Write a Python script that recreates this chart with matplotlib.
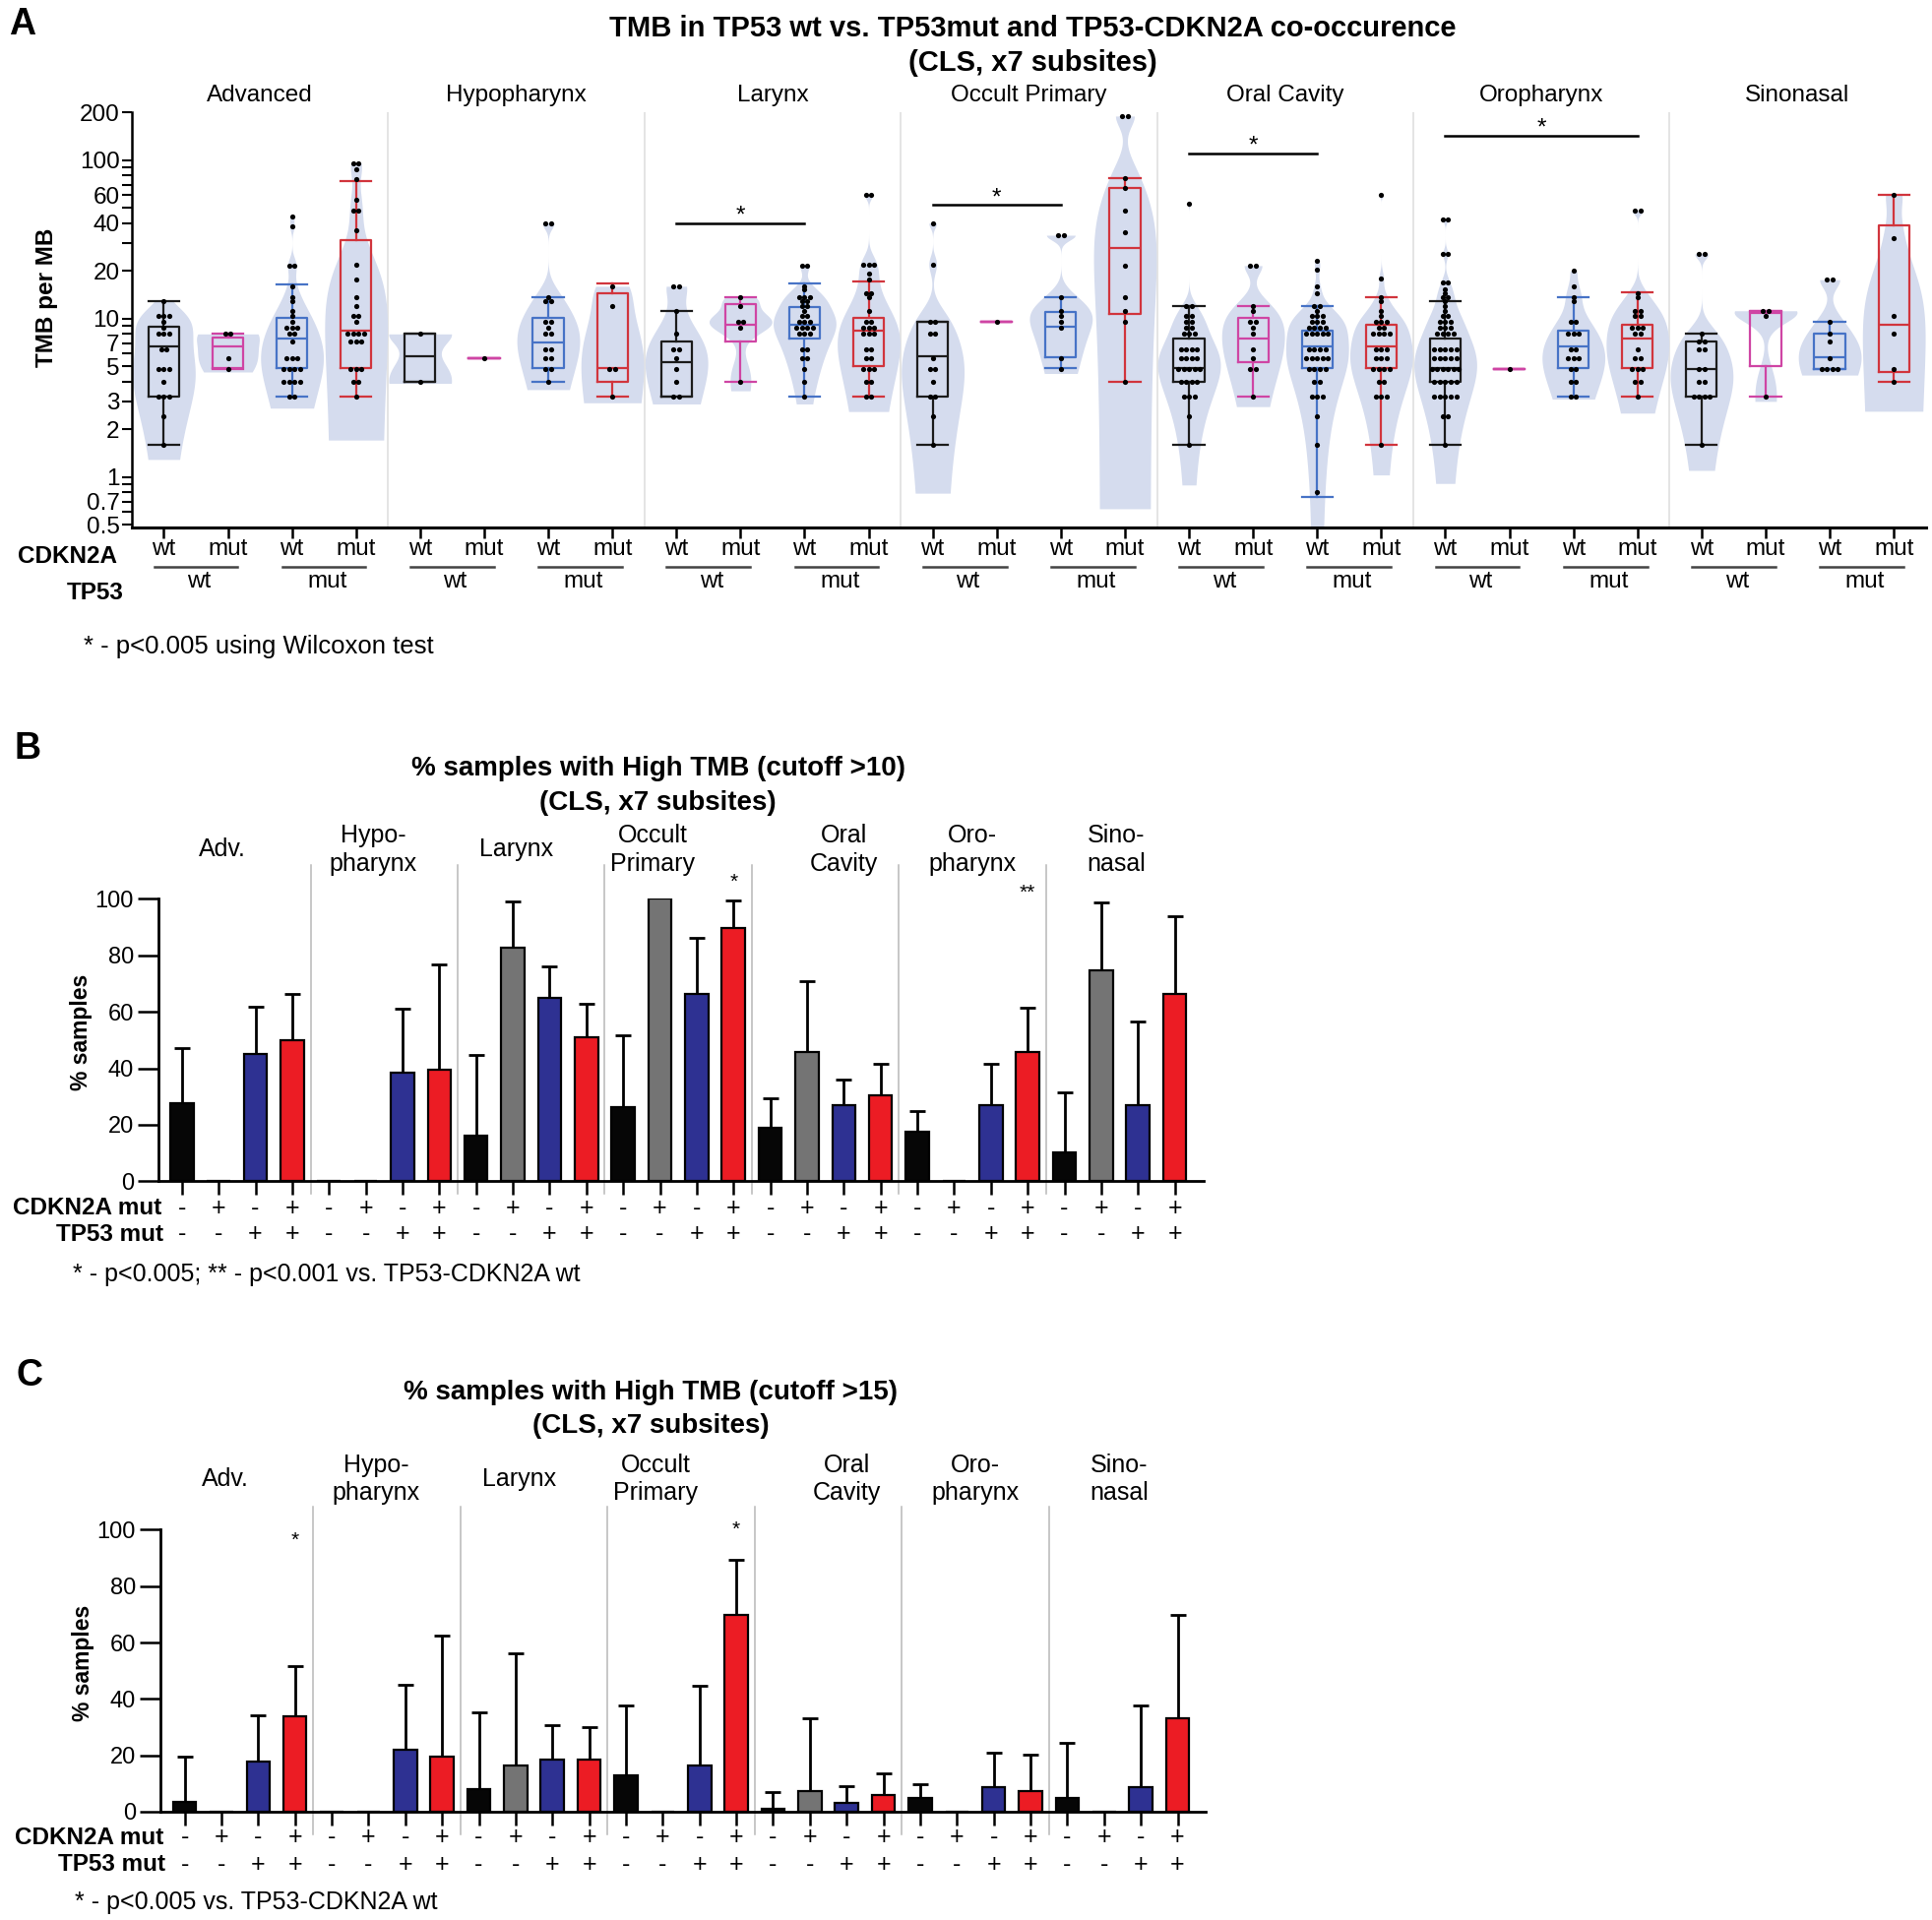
import numpy as np
import matplotlib
matplotlib.use("Agg")
import matplotlib.pyplot as plt
from matplotlib.ticker import NullLocator

plt.rcParams['font.family'] = ['Liberation Sans', 'DejaVu Sans']

# ================= Panel A data =================
subsites = ['Advanced', 'Hypopharynx', 'Larynx', 'Occult Primary',
            'Oral Cavity', 'Oropharynx', 'Sinonasal']
cdkn2a_status = ['wt', 'mut', 'wt', 'mut']
tp53_status = ['wt', 'mut']

# TMB values as (value, n samples); group order per subsite:
# CDKN2A wt/TP53 wt, CDKN2A mut/TP53 wt, CDKN2A wt/TP53 mut, CDKN2A mut/TP53 mut
tmb_advanced = [
    [(12.8, 1), (10.4, 3), (9.6, 1), (8.8, 1), (8.0, 3), (6.4, 2), (4.8, 3), (4.0, 1), (3.2, 3), (2.4, 1), (1.6, 1)],
    [(8.0, 2), (5.6, 1), (4.8, 1)],
    [(44, 1), (38, 1), (21.6, 2), (16, 1), (13.6, 1), (12.8, 1), (11.2, 1), (10.4, 1), (9.6, 1), (8.8, 3),
     (8.0, 2), (7.2, 1), (5.6, 3), (4.8, 4), (4.0, 4), (3.2, 2)],
    [(96, 2), (88, 1), (76, 1), (56, 1), (48, 2), (36, 1), (22, 1), (17.6, 1), (13.6, 1), (12, 1), (10.4, 2),
     (9.6, 1), (8.0, 4), (7.2, 3), (4.8, 3), (4.0, 2), (3.2, 1)],
]
tmb_hypopharynx = [
    [(8.0, 1), (4.0, 1)],
    [(5.6, 1)],
    [(40, 2), (13.6, 1), (12.8, 2), (9.6, 2), (8.8, 1), (8.0, 2), (6.4, 2), (5.6, 2), (4.8, 2), (4.0, 1)],
    [(16, 1), (12, 1), (4.8, 2), (3.2, 1)],
]
tmb_larynx = [
    [(16, 2), (11.2, 1), (8.0, 1), (6.4, 2), (5.6, 1), (4.8, 1), (4.0, 1), (3.2, 2)],
    [(13.6, 1), (12, 1), (9.6, 2), (8.8, 1), (4.0, 1)],
    [(21.6, 2), (16, 1), (15.2, 1), (13.6, 3), (12.8, 2), (12, 2), (11.2, 1), (10.4, 2), (9.6, 3), (8.8, 4),
     (8.0, 3), (6.4, 2), (5.6, 2), (4.8, 1), (4.0, 1), (3.2, 1)],
    [(60, 2), (22, 3), (19.2, 1), (17.6, 1), (14.4, 2), (13.6, 1), (11.2, 1), (9.6, 2), (8.8, 3), (8.0, 3),
     (6.4, 2), (5.6, 2), (4.8, 3), (4.0, 2), (3.2, 2)],
]
tmb_occult = [
    [(40, 1), (22, 1), (9.6, 2), (8.0, 2), (5.6, 1), (4.8, 2), (4.0, 1), (3.2, 2), (2.4, 1), (1.6, 1)],
    [(9.6, 1)],
    [(33.6, 2), (13.6, 1), (11.2, 1), (10.4, 1), (9.6, 1), (8.8, 1), (5.6, 1), (4.8, 1)],
    [(190, 2), (77, 1), (67, 1), (48, 1), (35, 1), (21.6, 1), (13.6, 1), (11.2, 1), (9.6, 1), (4.0, 1)],
]
tmb_oral = [
    [(53, 1), (12, 2), (10.4, 2), (9.6, 2), (8.8, 2), (8.0, 3), (6.4, 4), (5.6, 4), (4.8, 5), (4.0, 4),
     (3.2, 3), (2.4, 1), (1.6, 1)],
    [(21.6, 2), (12, 1), (11.2, 1), (9.6, 2), (8.8, 1), (8.0, 1), (6.4, 1), (5.6, 1), (4.8, 2), (3.2, 1)],
    [(23, 1), (20.5, 1), (16, 1), (14.4, 1), (12, 2), (11.2, 1), (10.4, 3), (9.6, 3), (8.8, 4), (8.0, 5),
     (6.4, 4), (5.6, 5), (4.8, 4), (4.0, 2), (3.2, 3), (2.4, 1), (1.6, 1), (0.8, 1)],
    [(60, 1), (18, 1), (13.6, 1), (12.8, 1), (11.2, 1), (10.4, 1), (9.6, 3), (8.8, 2), (8.0, 4), (6.4, 3),
     (5.6, 3), (4.8, 4), (4.0, 2), (3.2, 3), (1.6, 1)],
]
tmb_oropharynx = [
    [(42, 2), (25.6, 2), (16.8, 2), (15.2, 1), (14.4, 1), (13.6, 2), (12.8, 1), (12, 1), (11.2, 1), (10.4, 2),
     (9.6, 3), (8.8, 3), (8.0, 4), (6.4, 5), (5.6, 5), (4.8, 6), (4.0, 5), (3.2, 5), (2.4, 2), (1.6, 1)],
    [(4.8, 1)],
    [(20, 1), (16, 1), (13.6, 1), (12.8, 1), (9.6, 2), (8.0, 3), (6.4, 2), (5.6, 3), (4.8, 2), (4.0, 2), (3.2, 2)],
    [(48, 2), (14.4, 1), (13.6, 1), (11.2, 2), (10.4, 2), (8.8, 3), (8.0, 2), (6.4, 1), (5.6, 2), (4.8, 3),
     (4.0, 2), (3.2, 1)],
]
tmb_sinonasal = [
    [(25.6, 2), (8.0, 1), (7.2, 2), (6.4, 2), (4.8, 2), (4.0, 2), (3.2, 4), (1.6, 1)],
    [(11.2, 2), (10.4, 1), (3.2, 1)],
    [(17.6, 2), (9.6, 1), (8.0, 1), (7.2, 1), (5.6, 1), (4.8, 4)],
    [(60, 1), (32, 1), (10.4, 1), (8.0, 1), (4.8, 1), (4.0, 1)],
]

# box statistics: (whisker low, Q1, median, Q3, whisker high)
box_advanced = [(1.6, 3.2, 6.7, 8.9, 12.8), (4.8, 4.9, 6.7, 7.6, 8.0),
                (3.2, 4.9, 7.5, 10.1, 16.4), (3.2, 4.9, 8.4, 31.4, 74)]
box_hypopharynx = [(4.0, 4.0, 5.8, 8.0, 8.0), (5.6, 5.6, 5.6, 5.6, 5.6),
                   (4.0, 4.9, 7.1, 10.1, 13.7), (3.2, 4.0, 4.9, 14.4, 16.6)]
box_larynx = [(3.2, 3.2, 5.3, 7.2, 11.2), (4.0, 7.2, 9.2, 12.4, 13.7),
              (3.2, 7.5, 9.2, 11.8, 16.6), (3.2, 5.0, 8.4, 10.1, 17.2)]
box_occult = [(1.6, 3.2, 5.8, 9.6, 9.6), (9.6, 9.6, 9.6, 9.6, 9.6),
              (4.9, 5.7, 8.9, 11.0, 13.7), (4.0, 10.7, 27.9, 67, 77)]
box_oral = [(1.6, 4.0, 4.9, 7.5, 12), (3.2, 5.3, 7.5, 10.1, 12),
            (0.75, 4.9, 6.7, 8.4, 12), (1.6, 4.9, 6.7, 9.2, 13.7)]
box_oropharynx = [(1.6, 4.0, 4.9, 7.5, 12.9), (4.8, 4.8, 4.8, 4.8, 4.8),
                  (3.2, 4.9, 6.7, 8.4, 13.7), (3.2, 4.9, 7.5, 9.2, 14.7)]
box_sinonasal = [(1.6, 3.2, 4.8, 7.2, 8.0), (3.2, 5.0, 10.8, 11.2, 11.2),
                 (4.8, 4.8, 5.7, 8.0, 9.6), (4.0, 4.6, 9.2, 38.5, 60)]

# lower end of each violin (None = single sample, no violin)
violin_floor = [
    [1.29, 4.6, 2.72, 1.71],
    [3.9, None, 3.56, 2.94],
    [2.89, 3.5, 2.89, 2.59],
    [0.79, None, 4.5, 0.63],
    [0.89, 2.78, 0.47, 1.03],
    [0.91, None, 3.1, 2.53],
    [1.1, 3.0, 4.4, 2.6],
]

# Wilcoxon comparisons: subsite index, group a, group b, bar height
sig_subsite = [2, 3, 4, 5]
sig_group_a = [0, 0, 0, 0]
sig_group_b = [2, 2, 2, 3]
sig_level = [40, 52, 110, 143]

# ================= Panels B / C data =================
subsites_short = ['Adv.', 'Hypo-\npharynx', 'Larynx', 'Occult\nPrimary',
                  'Oral\nCavity', 'Oro-\npharynx', 'Sino-\nnasal']
cdkn2a_sign = ['-', '+', '-', '+']
tp53_sign = ['-', '-', '+', '+']

# % samples with TMB > 10 and upper end of error bar
high10_pct = [27.8, 0, 45.2, 49.8, 0, 0, 38.6, 39.6, 16.3, 82.9, 65.1, 51.1, 26.4, 100, 66.4, 89.7,
              18.9, 45.8, 26.8, 30.4, 17.4, 0, 26.9, 45.8, 10.3, 74.7, 26.9, 66.4]
high10_upper = [47.3, 0, 61.9, 66.3, 0, 0, 61.1, 76.8, 44.6, 99, 76.2, 62.8, 51.8, 100, 86.1, 99.4,
                29.5, 70.9, 36.1, 41.5, 24.8, 0, 41.7, 61.4, 31.3, 98.6, 56.5, 93.9]
high10_star_bar = [15, 23]
high10_star_text = ['*', '**']
high10_star_y = [106, 102]

# % samples with TMB > 15
high15_pct = [3.6, 0, 17.8, 33.9, 0, 0, 21.9, 19.7, 8.0, 16.3, 18.4, 18.6, 13.0, 0, 16.4, 69.8,
              1.0, 7.2, 3.2, 6.0, 4.7, 0, 8.6, 7.2, 4.8, 0, 8.6, 33.0]
high15_upper = [19.4, 0, 34.3, 51.7, 0, 0, 45.1, 62.5, 35.2, 56.3, 30.6, 29.9, 37.7, 0, 44.7, 89.2,
                7.1, 33.2, 8.9, 13.7, 9.8, 0, 20.8, 20.1, 24.4, 0, 37.5, 69.9]
high15_star_bar = [3, 15]
high15_star_text = ['*', '*']
high15_star_y = [96, 100]

tmb_all = [tmb_advanced, tmb_hypopharynx, tmb_larynx, tmb_occult, tmb_oral, tmb_oropharynx, tmb_sinonasal]
box_all = [box_advanced, box_hypopharynx, box_larynx, box_occult, box_oral, box_oropharynx, box_sinonasal]

box_colors = ['#1c1c1c', '#cf45a4', '#4773c6', '#d1353d']
bar_colors = ['#060606', '#747474', '#2e3192', '#ec1c24']
violin_color = '#d5dcee'
FS = 17.5


def expand(pairs):
    return np.array([v for v, c in pairs for _ in range(c)], dtype=float)


def kde_shape(vals, y):
    # gaussian KDE in linear TMB space, Silverman-type bandwidth
    n = len(vals)
    sd = vals.std(ddof=1)
    iqr = np.subtract(*np.percentile(vals, [75, 25]))
    s = min(sd, iqr / 1.349) if iqr > 0 else sd
    bw = 1.059 * s * n ** -0.2
    d = np.exp(-0.5 * ((y[:, None] - vals[None, :]) / bw) ** 2).sum(axis=1)
    return d / d.max()


fig = plt.figure(figsize=(19.63, 19.51), dpi=100)

# ---------------- Panel A ----------------
axA = fig.add_axes([0.0682, 0.7253, 0.9286, 0.2161])
axA.set_yscale('log')
for f in range(7):
    for j in range(4):
        g = 4 * f + j
        vals = expand(tmb_all[f][j])
        col = box_colors[j]
        if violin_floor[f][j] is not None:
            y = np.geomspace(violin_floor[f][j], vals.max(), 400)
            w = kde_shape(vals, y) * 0.49
            axA.fill_betweenx(y, g - w, g + w, color=violin_color, lw=0, zorder=1)
        lo, q1, med, q3, hi = box_all[f][j]
        lp = dict(color=col, lw=1.6)
        axA.bxp([dict(whislo=lo, q1=q1, med=med, q3=q3, whishi=hi, fliers=[])],
                positions=[g], widths=0.48, capwidths=0.48, showfliers=False,
                manage_ticks=False, boxprops=lp, whiskerprops=lp, capprops=lp,
                medianprops=lp, zorder=3)
        for v, c in tmb_all[f][j]:
            xs = g + (np.arange(c) - (c - 1) / 2) * 0.085
            axA.scatter(xs, [v] * c, s=14, color='black', lw=0, zorder=4)

for k in range(1, 7):
    axA.axvline(4 * k - 0.5, color='#e2e2e2', lw=1.3, zorder=0)

for f, a, b, lv in zip(sig_subsite, sig_group_a, sig_group_b, sig_level):
    xa, xb = 4 * f + a, 4 * f + b
    axA.plot([xa, xb], [lv, lv], color='black', lw=1.8, zorder=5)
    axA.annotate('*', ((xa + xb) / 2, lv), xytext=(0, 1), textcoords='offset points',
                 ha='center', va='baseline', fontsize=FS)

axA.set_xlim(-0.5, 27.5)
axA.set_ylim(0.48, 200)
a_ticks = [0.5, 0.6, 0.7, 0.8, 0.9, 1, 2, 3, 4, 5, 6, 7, 8, 9, 10, 20, 30, 40, 50, 60, 70, 80, 90, 100, 200]
a_labels = ['0.5', '', '0.7', '', '', '1', '2', '3', '', '5', '', '7', '', '', '10', '20', '', '40', '',
            '60', '', '', '', '100', '200']
axA.set_yticks(a_ticks)
axA.set_yticklabels(a_labels)
axA.yaxis.set_minor_locator(NullLocator())
axA.set_xticks(range(28))
axA.set_xticklabels([])
axA.tick_params(axis='y', length=7, width=1.5, labelsize=FS, pad=2)
axA.tick_params(axis='x', length=8, width=1.8)
for s in ['top', 'right']:
    axA.spines[s].set_visible(False)
axA.spines['left'].set_linewidth(1.8)
axA.spines['bottom'].set_linewidth(2.2)

trA = axA.get_xaxis_transform()
for f in range(7):
    axA.text(4 * f + 1.5, 1.04, subsites[f], transform=trA, ha='center', va='center', fontsize=FS)
    for j in range(4):
        axA.text(4 * f + j, -0.053, cdkn2a_status[j], transform=trA, ha='center', va='center', fontsize=FS)
    for p in range(2):
        g0 = 4 * f + 2 * p
        axA.plot([g0 - 0.15, g0 + 1.15], [-0.095, -0.095], transform=trA, color='#444444', lw=1.8,
                 clip_on=False)
        axA.text(g0 + 0.55, -0.13, tp53_status[p], transform=trA, ha='center', va='center', fontsize=FS)

fig.text(0.0351, 0.7102, 'CDKN2A', ha='center', va='center', fontsize=FS, fontweight='bold')
fig.text(0.0491, 0.6913, 'TP53', ha='center', va='center', fontsize=FS, fontweight='bold')
fig.text(0.0242, 0.8453, 'TMB per MB', rotation=90, ha='center', va='center', fontsize=FS, fontweight='bold')
fig.text(0.5344, 0.9852, 'TMB in TP53 wt vs. TP53mut and TP53-CDKN2A co-occurence',
         ha='center', va='center', fontsize=21, fontweight='bold')
fig.text(0.5344, 0.9673, '(CLS, x7 subsites)', ha='center', va='center', fontsize=21, fontweight='bold')
fig.text(0.0434, 0.663, '* - p<0.005 using Wilcoxon test', ha='left', va='center', fontsize=18.5)
fig.text(0.0114, 0.9874, 'A', ha='center', va='center', fontsize=27, fontweight='bold')


# ---------------- Panels B and C ----------------
label_x = [1.1, 5.2, 9.1, 12.8, 18.0, 21.5, 25.4]


def bar_panel(ax, pct, upper, star_bar, star_text, star_y, xlim, sep_span, lab_y, row_y):
    pct = np.asarray(pct, dtype=float)
    upper = np.asarray(upper, dtype=float)
    x = np.arange(len(pct))
    ax.bar(x, pct, width=0.63, color=bar_colors * 7, edgecolor='black', linewidth=1.6, zorder=2)
    m = upper > pct
    ax.errorbar(x[m], pct[m], yerr=[np.zeros(m.sum()), upper[m] - pct[m]], fmt='none',
                ecolor='black', elinewidth=2, capsize=6, capthick=2, zorder=1)
    for b, t, yv in zip(star_bar, star_text, star_y):
        ax.text(b, yv, t, ha='center', va='center', fontsize=15)
    ax.set_xlim(*xlim)
    ax.set_ylim(0, 100)
    ax.set_yticks([0, 20, 40, 60, 80, 100])
    ax.set_xticks(x)
    ax.set_xticklabels([])
    ax.tick_params(axis='y', length=15, width=1.8, labelsize=17, pad=3)
    ax.tick_params(axis='x', length=10, width=1.8)
    for s in ['top', 'right']:
        ax.spines[s].set_visible(False)
    ax.spines['left'].set_linewidth(2)
    ax.spines['bottom'].set_linewidth(2)
    tr = ax.get_xaxis_transform()
    for k in range(1, 7):
        ax.plot([4 * k - 0.5] * 2, sep_span, transform=tr, color='#b8b8b8', lw=1.1, clip_on=False)
    for f in range(7):
        ax.text(label_x[f], lab_y, subsites_short[f], transform=tr, ha='center', va='center',
                fontsize=18, linespacing=1.25)
    for g in range(len(pct)):
        ax.text(g, row_y[0], cdkn2a_sign[g % 4], transform=tr, ha='center', va='center', fontsize=18)
        ax.text(g, row_y[1], tp53_sign[g % 4], transform=tr, ha='center', va='center', fontsize=18)


axB = fig.add_axes([0.0819, 0.3848, 0.5410, 0.1470])
bar_panel(axB, high10_pct, high10_upper, high10_star_bar, high10_star_text, high10_star_y,
          (-0.643, 27.78), [-0.046, 1.12], 1.175, [-0.0956, -0.189])
fig.text(0.3406, 0.5996, '% samples with High TMB (cutoff >10)', ha='center', va='center',
         fontsize=20, fontweight='bold')
fig.text(0.3406, 0.5816, '(CLS, x7 subsites)', ha='center', va='center', fontsize=20, fontweight='bold')
fig.text(0.0835, 0.3707, 'CDKN2A mut', ha='right', va='center', fontsize=17.5, fontweight='bold')
fig.text(0.0845, 0.3570, 'TP53 mut', ha='right', va='center', fontsize=17.5, fontweight='bold')
fig.text(0.0421, 0.4622, '% samples', rotation=90, ha='center', va='center', fontsize=16.5, fontweight='bold')
fig.text(0.0375, 0.336, '* - p<0.005; ** - p<0.001 vs. TP53-CDKN2A wt', ha='left', va='center', fontsize=18)
fig.text(0.0141, 0.6101, 'B', ha='center', va='center', fontsize=27, fontweight='bold')

axC = fig.add_axes([0.0830, 0.0564, 0.5410, 0.1469])
bar_panel(axC, high15_pct, high15_upper, high15_star_bar, high15_star_text, high15_star_y,
          (-0.66, 27.76), [-0.082, 1.08], 1.179, [-0.092, -0.187])
fig.text(0.3367, 0.2748, '% samples with High TMB (cutoff >15)', ha='center', va='center',
         fontsize=20, fontweight='bold')
fig.text(0.3367, 0.2571, '(CLS, x7 subsites)', ha='center', va='center', fontsize=20, fontweight='bold')
fig.text(0.0846, 0.0428, 'CDKN2A mut', ha='right', va='center', fontsize=17.5, fontweight='bold')
fig.text(0.0856, 0.0289, 'TP53 mut', ha='right', va='center', fontsize=17.5, fontweight='bold')
fig.text(0.0432, 0.1338, '% samples', rotation=90, ha='center', va='center', fontsize=16.5, fontweight='bold')
fig.text(0.0387, 0.0091, '* - p<0.005 vs. TP53-CDKN2A wt', ha='left', va='center', fontsize=18)
fig.text(0.0153, 0.2837, 'C', ha='center', va='center', fontsize=27, fontweight='bold')

fig.savefig('out.png', dpi=100, facecolor='white')
